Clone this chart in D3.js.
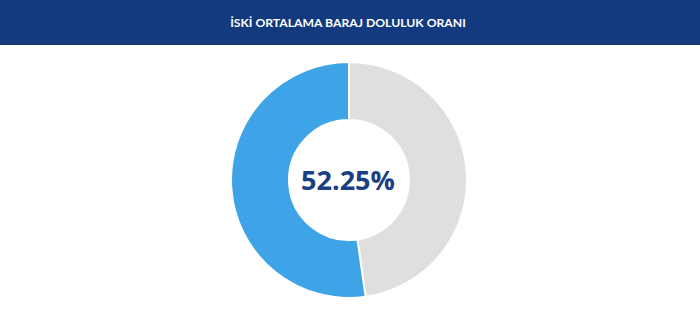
<!DOCTYPE html>
<html><head><meta charset="utf-8">
<script src="https://cdn.jsdelivr.net/npm/d3@7"></script>
<style>
html,body{margin:0;padding:0;background:#fff;}
svg{display:block;}
</style></head>
<body>
<script>
const title = "İSKİ ORTALAMA BARAJ DOLULUK ORANI";
const categories = ["Boş", "Dolu"];
const values = [47.75, 52.25];
const colors = ["#dfdfdf", "#3fa3e8"];
const centerLabel = "52.25%";

const W = 700, H = 329;
const svg = d3.select("body").append("svg").attr("width", W).attr("height", H);

svg.append("rect").attr("x",0).attr("y",0).attr("width",W).attr("height",45).attr("fill","#133a7e");
svg.append("text").attr("x",348).attr("y",22.5).attr("text-anchor","middle").attr("dominant-baseline","central")
  .attr("fill","#fff").attr("font-family","Lato, 'Open Sans', sans-serif").attr("font-weight","bold")
  .attr("font-size",12.2).text(title);

const cx = 349, cy = 180, R = 118, r = 60;
const pie = d3.pie().sort(null).value(d => d.v);
const arc = d3.arc().innerRadius(r).outerRadius(R);
const data = categories.map((c,i)=>({c, v: values[i], col: colors[i]}));
const g = svg.append("g").attr("transform", `translate(${cx},${cy})`);
g.selectAll("path").data(pie(data)).join("path")
  .attr("d", arc).attr("fill", d => d.data.col).attr("stroke","#fff").attr("stroke-width",2);

g.append("text").attr("text-anchor","middle").attr("dominant-baseline","central").attr("y",-1).attr("x",-1)
  .attr("fill","#1b3f86").attr("font-family","'Open Sans', sans-serif").attr("font-weight","bold")
  .attr("font-size",27).text(centerLabel);
</script>
</body></html>
